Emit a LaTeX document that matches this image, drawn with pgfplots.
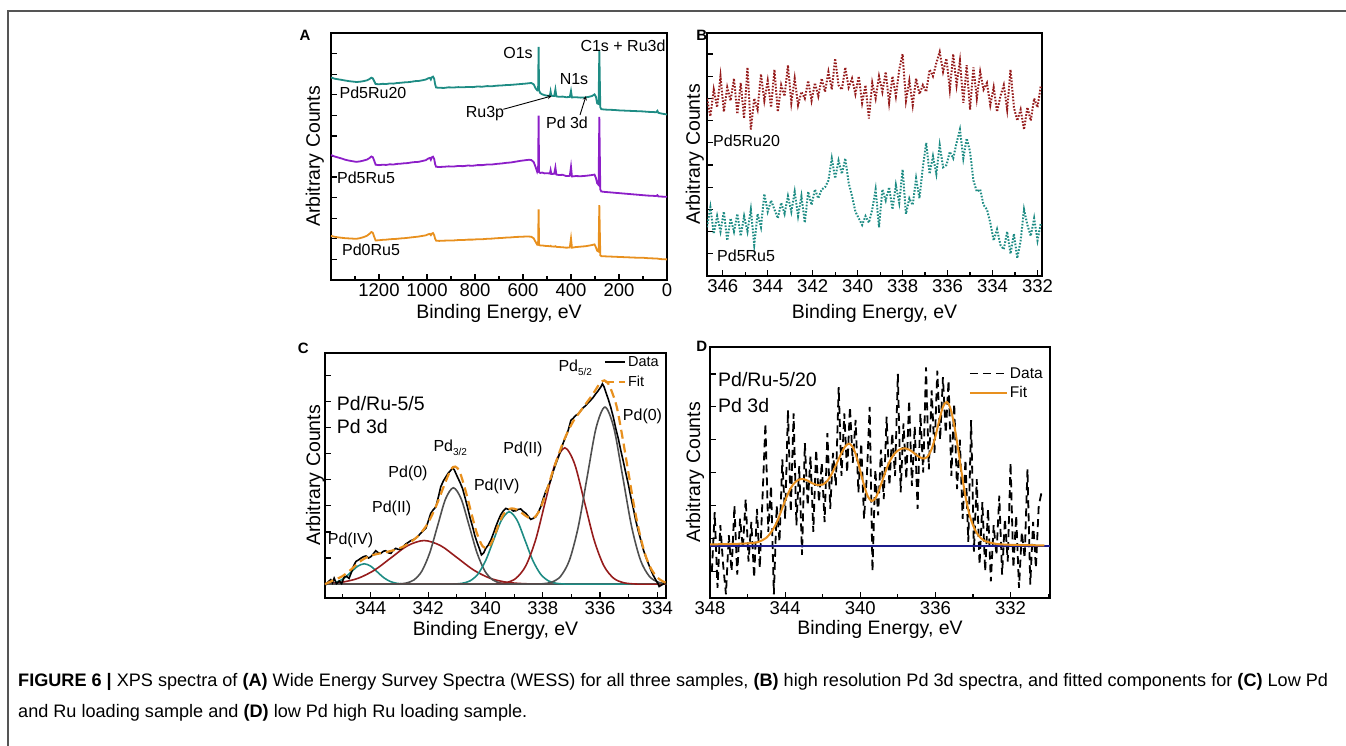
\documentclass[border=0pt]{standalone}
\usepackage{fontspec}
\setmainfont{Liberation Sans}
\usepackage{pgfplots}
\pgfplotsset{compat=1.18}

\definecolor{cTeal}{HTML}{1E8C84}
\definecolor{cPurple}{HTML}{8C1EC8}
\definecolor{cOrange}{HTML}{E8901E}
\definecolor{cRed}{HTML}{961C1C}
\definecolor{cGray}{HTML}{505050}
\definecolor{cNavy}{HTML}{1C1C8C}
\definecolor{cFrame}{HTML}{555555}

\newcommand{\fs}[1]{\fontsize{#1}{#1}\selectfont}

\pgfplotsset{
  xps/.style={
    scale only axis,
    x dir=reverse,
    axis line style={line width=1.6pt},
    tick style={black, line width=1.2pt},
    tick align=inside,
    xtick pos=bottom, ytick pos=left,
    major tick length=6pt, minor tick length=3.5pt,
    yticklabels={},
    /pgf/number format/assume math mode=true,
    /pgf/number format/1000 sep={},
    ticklabel style={font=\fs{18.5}},
    xlabel={Binding Energy, eV},
    ylabel={Arbitrary Counts},
    label style={font=\fs{19.5}},
  }
}

\begin{document}
\begin{tikzpicture}
\useasboundingbox (0,0) rectangle (1346pt,746pt);
% page frame
\draw[cFrame, line width=1.3pt] (8pt,0pt) -- (8pt,735pt) -- (1346pt,735pt);

% ---------------- A: survey ----------------
\begin{axis}[xps,
    at={(331pt,466pt)}, anchor=south west,
    width=336pt, height=247pt,
    xmin=0, xmax=1400, ymin=0, ymax=12,
    xtick={0,200,...,1200}, minor xtick={100,300,...,1300},
    ytick={1,...,11},
    xlabel style={at={(axis description cs:0.5,0)}, anchor=center, yshift=-33pt},
    ylabel style={at={(axis description cs:-0.048,0.5)}, anchor=center},
]
\addplot[cTeal, line width=1.8pt] coordinates {
(1400,9.84)(1385,9.78)(1370,9.75)(1355,9.72)(1340,9.69)(1325,9.66)(1310,9.64)(1295,9.62)(1280,9.63)(1265,9.66)(1250,9.70)(1240,9.76)(1232,9.83)(1226,9.80)(1220,9.66)(1214,9.52)(1200,9.51)(1185,9.53)(1170,9.52)(1155,9.55)(1140,9.54)(1125,9.57)(1110,9.58)(1095,9.60)(1080,9.61)(1065,9.63)(1050,9.66)(1035,9.67)(1020,9.70)(1005,9.74)(995,9.80)(988,9.82)(984,9.74)(980,9.85)(975,9.88)(970,9.78)(966,9.50)(962,9.35)(950,9.34)(930,9.33)(910,9.36)(890,9.35)(870,9.37)(850,9.36)(830,9.38)(810,9.37)(790,9.40)(770,9.39)(750,9.42)(730,9.41)(710,9.44)(690,9.45)(670,9.47)(650,9.48)(630,9.50)(610,9.52)(590,9.54)(575,9.56)(565,9.57)(555,9.50)(548,9.32)(541,9.22)(537,9.30)(535,11.33)(533,9.20)(528,9.08)(520,9.02)(510,8.98)(498,8.95)(488,8.96)(485,9.16)(482,8.95)(470,8.94)(465,9.26)(461,8.92)(450,8.90)(435,8.91)(420,8.88)(405,8.89)(400,9.18)(396,8.87)(380,8.88)(360,8.86)(340,8.87)(325,8.90)(312,8.94)(302,9.02)(296,8.90)(291,8.58)(285,8.55)(282,11.17)(278,8.40)(274,8.30)(260,8.28)(240,8.27)(220,8.26)(200,8.24)(180,8.23)(160,8.22)(140,8.21)(120,8.20)(100,8.19)(80,8.17)(60,8.16)(45,8.15)(40,8.22)(36,8.12)(20,8.08)(0,8.04)
};
\addplot[cPurple, line width=1.8pt] coordinates {
(1400,6.07)(1385,6.00)(1370,5.95)(1355,5.90)(1340,5.84)(1325,5.80)(1310,5.77)(1295,5.74)(1280,5.76)(1265,5.80)(1250,5.85)(1240,5.92)(1232,6.00)(1226,5.97)(1220,5.80)(1214,5.60)(1200,5.58)(1185,5.60)(1170,5.59)(1155,5.62)(1140,5.61)(1125,5.64)(1110,5.65)(1095,5.67)(1080,5.68)(1065,5.71)(1050,5.73)(1035,5.74)(1020,5.78)(1005,5.82)(995,5.90)(988,5.93)(984,5.84)(980,5.96)(975,5.99)(970,5.88)(966,5.62)(962,5.50)(950,5.49)(930,5.50)(910,5.52)(890,5.51)(870,5.54)(850,5.53)(830,5.56)(810,5.55)(790,5.58)(770,5.58)(750,5.61)(730,5.61)(710,5.64)(690,5.66)(670,5.69)(650,5.71)(630,5.75)(610,5.79)(590,5.82)(575,5.84)(565,5.83)(555,5.72)(548,5.50)(541,5.26)(537,5.40)(535,7.98)(533,5.24)(528,5.20)(520,5.22)(510,5.18)(498,5.19)(488,5.17)(485,5.34)(482,5.15)(470,5.16)(465,5.47)(461,5.12)(450,5.10)(435,5.11)(420,5.05)(405,5.06)(400,5.50)(396,5.03)(380,5.05)(360,5.04)(340,5.06)(325,5.08)(312,5.10)(302,5.12)(296,4.95)(291,4.70)(285,4.62)(282,7.93)(278,4.40)(274,4.30)(260,4.28)(240,4.26)(220,4.24)(200,4.22)(180,4.20)(160,4.18)(140,4.16)(120,4.14)(100,4.12)(80,4.10)(60,4.09)(45,4.08)(40,4.12)(36,4.06)(20,4.05)(0,4.04)
};
\addplot[cOrange, line width=1.8pt] coordinates {
(1400,2.14)(1385,2.10)(1370,2.07)(1355,2.05)(1340,2.03)(1325,2.02)(1310,2.01)(1295,2.00)(1280,2.03)(1265,2.08)(1250,2.15)(1240,2.24)(1232,2.33)(1226,2.30)(1220,2.10)(1214,1.92)(1200,1.93)(1185,1.95)(1170,1.96)(1155,1.98)(1140,1.99)(1125,2.00)(1110,2.02)(1095,2.03)(1080,2.05)(1065,2.07)(1050,2.09)(1035,2.11)(1020,2.14)(1005,2.17)(995,2.22)(988,2.24)(984,2.18)(980,2.25)(975,2.28)(970,2.18)(966,2.00)(962,1.91)(950,1.90)(930,1.91)(910,1.92)(890,1.92)(870,1.94)(850,1.94)(830,1.96)(810,1.96)(790,1.98)(770,1.98)(750,2.00)(730,2.01)(710,2.03)(690,2.04)(670,2.06)(650,2.07)(630,2.09)(610,2.10)(590,2.11)(575,2.11)(565,2.10)(555,2.02)(548,1.86)(541,1.72)(537,1.78)(535,3.43)(533,1.70)(528,1.68)(520,1.68)(510,1.66)(498,1.65)(488,1.64)(485,1.66)(482,1.63)(470,1.62)(465,1.64)(461,1.61)(450,1.60)(435,1.59)(420,1.57)(405,1.58)(400,2.02)(396,1.57)(380,1.60)(360,1.62)(340,1.64)(325,1.67)(312,1.70)(302,1.73)(296,1.58)(291,1.42)(285,1.38)(282,3.64)(278,1.20)(274,1.16)(260,1.15)(240,1.14)(220,1.13)(200,1.12)(180,1.11)(160,1.10)(140,1.09)(120,1.08)(100,1.08)(80,1.06)(60,1.05)(45,1.04)(40,1.04)(36,1.03)(20,1.01)(0,1.00)
};
\end{axis}

% ---------------- B: Pd 3d high resolution ----------------
\begin{axis}[xps,
    at={(707pt,470pt)}, anchor=south west,
    width=335pt, height=243pt,
    xmin=331.8, xmax=346.7, ymin=0, ymax=10.95,
    xtick={332,334,...,346}, minor xtick={333,335,...,345},
    ytick={1,...,10},
    xlabel style={at={(axis description cs:0.5,0)}, anchor=center, yshift=-37pt},
    ylabel style={at={(axis description cs:-0.036,0.5)}, anchor=center},
]
\addplot[cRed, line width=2pt, dash pattern=on 1.6pt off 1.6pt] coordinates {
(346.70,8.0)(346.55,7.2)(346.40,8.4)(346.25,7.6)(346.10,9.0)(345.95,7.4)(345.80,8.5)(345.65,7.9)(345.50,8.9)(345.35,7.3)(345.20,8.7)(345.05,7.1)(344.90,9.4)(344.75,6.6)(344.60,8.0)(344.45,7.5)(344.30,9.1)(344.15,7.9)(344.00,8.8)(343.85,7.6)(343.70,9.3)(343.55,7.4)(343.40,8.6)(343.25,8.1)(343.10,9.5)(342.95,7.8)(342.80,8.9)(342.65,7.7)(342.50,8.3)(342.35,8.0)(342.20,8.8)(342.05,7.9)(341.90,8.7)(341.75,8.1)(341.60,8.9)(341.45,8.3)(341.30,9.2)(341.15,8.4)(341.00,9.8)(340.85,8.6)(340.70,8.4)(340.55,9.4)(340.40,8.5)(340.25,8.9)(340.10,8.2)(339.95,9.0)(339.80,7.8)(339.65,8.6)(339.50,7.1)(339.35,8.7)(339.20,8.0)(339.05,9.0)(338.90,8.3)(338.75,9.2)(338.60,7.8)(338.45,9.0)(338.30,8.1)(338.15,9.3)(338.00,10.0)(337.85,7.9)(337.70,8.8)(337.55,7.7)(337.40,8.9)(337.25,8.2)(337.10,8.6)(336.95,8.3)(336.80,9.3)(336.65,9.0)(336.50,9.6)(336.35,10.1)(336.20,9.2)(336.05,9.8)(335.90,8.4)(335.75,10.0)(335.60,8.6)(335.45,9.7)(335.30,7.8)(335.15,9.5)(335.00,7.5)(334.85,9.4)(334.70,8.0)(334.55,9.2)(334.40,8.4)(334.25,8.7)(334.10,7.7)(333.95,8.5)(333.80,7.4)(333.65,8.1)(333.50,8.6)(333.35,7.5)(333.20,9.3)(333.05,7.6)(332.90,7.0)(332.75,7.5)(332.60,6.6)(332.45,7.6)(332.30,7.0)(332.15,8.0)(332.00,7.6)(331.85,8.6)
};
\addplot[cTeal, line width=2pt, dash pattern=on 1.6pt off 1.6pt] coordinates {
(346.70,2.2)(346.55,3.1)(346.40,1.9)(346.25,2.7)(346.10,2.0)(345.95,2.9)(345.80,1.6)(345.65,2.6)(345.50,2.0)(345.35,2.8)(345.20,1.8)(345.05,2.7)(344.90,2.0)(344.75,3.0)(344.60,1.4)(344.45,2.8)(344.30,2.2)(344.15,3.7)(344.00,2.9)(343.85,3.4)(343.70,3.0)(343.55,2.6)(343.40,3.3)(343.25,2.8)(343.10,3.6)(342.95,2.9)(342.80,3.8)(342.65,2.7)(342.50,3.6)(342.35,2.4)(342.20,3.8)(342.05,3.2)(341.90,3.9)(341.75,3.5)(341.60,3.9)(341.45,4.0)(341.30,4.3)(341.15,5.3)(341.00,4.4)(340.85,5.2)(340.70,4.6)(340.55,5.3)(340.40,4.2)(340.25,3.6)(340.10,2.9)(339.95,2.6)(339.80,2.3)(339.65,2.7)(339.50,2.4)(339.35,3.0)(339.20,3.9)(339.05,2.2)(338.90,3.9)(338.75,3.4)(338.60,4.0)(338.45,3.0)(338.30,4.1)(338.15,3.3)(338.00,4.8)(337.85,2.8)(337.70,3.5)(337.55,3.2)(337.40,4.4)(337.25,3.5)(337.10,4.9)(336.95,6.0)(336.80,4.6)(336.65,5.4)(336.50,4.6)(336.35,5.9)(336.20,4.9)(336.05,5.0)(335.90,5.6)(335.75,5.3)(335.60,6.0)(335.45,6.6)(335.30,5.3)(335.15,6.2)(335.00,5.6)(334.85,4.3)(334.70,3.8)(334.55,3.9)(334.40,3.2)(334.25,3.0)(334.10,2.4)(333.95,1.6)(333.80,2.1)(333.65,1.4)(333.50,1.2)(333.35,2.0)(333.20,1.0)(333.05,1.9)(332.90,0.8)(332.75,1.6)(332.60,3.0)(332.45,2.3)(332.30,1.8)(332.15,2.6)(332.00,1.6)(331.85,2.4)
};
\end{axis}

% ---------------- C: Pd/Ru-5/5 fit ----------------
\begin{axis}[xps,
    at={(325pt,148pt)}, anchor=south west,
    width=341pt, height=245pt,
    xmin=333.7, xmax=345.6, ymin=-0.53, ymax=8.85,
    xtick={334,336,...,344}, minor xtick={335,337,...,345},
    ytick={1,...,8},
    xlabel style={at={(axis description cs:0.5,0)}, anchor=center, yshift=-32pt},
    ylabel style={at={(axis description cs:-0.029,0.5)}, anchor=center},
    legend cell align=left,
    legend style={draw=none, fill=none, at={(rel axis cs:0.985,0.995)}, anchor=north east,
      font=\fs{14.5}, inner sep=0pt, row sep=4pt},
    legend image code/.code={\draw[#1] (0pt,0pt) -- (20pt,0pt);},
]
% components
\addplot[cTeal, line width=1.6pt, smooth, forget plot] coordinates {
(345.8,0.002)(345.58,0.009)(345.355,0.034)(345.13,0.106)(344.905,0.253)(344.68,0.473)(344.455,0.688)(344.23,0.78)(344.005,0.688)(343.78,0.473)(343.555,0.253)(343.33,0.106)(343.105,0.034)(342.88,0.009)(342.655,0.002)(342.43,0)(333.7,0)};
\addplot[cRed, line width=1.6pt, smooth, forget plot] coordinates {
(346.165,0.004)(345.59,0.019)(345.015,0.073)(344.44,0.226)(343.865,0.542)(343.29,1.013)(342.715,1.474)(342.14,1.67)(341.565,1.474)(340.99,1.013)(340.415,0.542)(339.84,0.226)(339.265,0.073)(338.69,0.019)(338.115,0.004)(337.5,0)(333.7,0)};
\addplot[cGray, line width=1.6pt, smooth, forget plot] coordinates {
(345.6,0)(343.32,0)(343.045,0.008)(342.77,0.041)(342.495,0.162)(342.22,0.499)(341.945,1.198)(341.67,2.238)(341.395,3.256)(341.12,3.69)(340.845,3.256)(340.57,2.238)(340.295,1.198)(340.02,0.499)(339.745,0.162)(339.47,0.041)(339.195,0.008)(338.92,0)(333.7,0)};
\addplot[cTeal, line width=1.6pt, smooth, forget plot] coordinates {
(345.6,0)(341.37,0)(341.095,0.006)(340.82,0.031)(340.545,0.122)(340.27,0.375)(339.995,0.899)(339.72,1.680)(339.445,2.444)(339.17,2.77)(338.895,2.444)(338.62,1.680)(338.345,0.899)(338.07,0.375)(337.795,0.122)(337.52,0.031)(337.245,0.006)(336.97,0)(333.7,0)};
\addplot[cRed, line width=1.6pt, smooth, forget plot] coordinates {
(345.6,0)(339.95,0)(339.61,0.011)(339.27,0.058)(338.93,0.229)(338.59,0.706)(338.25,1.695)(337.91,3.166)(337.57,4.607)(337.23,5.22)(336.89,4.607)(336.55,3.166)(336.21,1.695)(335.87,0.706)(335.53,0.229)(335.19,0.058)(334.85,0.011)(334.51,0)(333.7,0)};
\addplot[cGray, line width=1.6pt, smooth, forget plot] coordinates {
(345.6,0)(338.31,0)(338.00,0.015)(337.69,0.075)(337.38,0.298)(337.07,0.917)(336.76,2.201)(336.45,4.112)(336.14,5.983)(335.83,6.78)(335.52,5.983)(335.21,4.112)(334.90,2.201)(334.59,0.917)(334.28,0.298)(333.97,0.075)(333.66,0.015)};
% data
\addplot[black, line width=1.6pt] coordinates {
(345.57,-0.03)(345.48,0.10)(345.40,0.17)(345.34,0.05)(345.28,0.23)(345.20,0.02)(345.10,0.12)(345.02,0.02)(344.93,0.27)(344.85,0.30)(344.76,0.22)(344.68,0.45)(344.60,0.70)(344.52,0.87)(344.44,0.92)(344.35,0.99)(344.26,1.05)(344.17,1.08)(344.08,1.00)(344.00,1.05)(343.92,1.15)(343.83,1.28)(343.74,1.20)(343.65,1.18)(343.56,1.26)(343.48,1.28)(343.39,1.20)(343.30,1.18)(343.22,1.30)(343.13,1.37)(343.04,1.33)(342.95,1.34)(342.86,1.45)(342.78,1.54)(342.69,1.60)(342.60,1.67)(342.52,1.70)(342.43,1.76)(342.34,1.85)(342.26,1.95)(342.17,2.05)(342.08,2.14)(342.00,2.40)(341.91,2.71)(341.82,2.85)(341.73,2.96)(341.64,3.35)(341.56,3.73)(341.47,3.95)(341.38,4.11)(341.30,4.25)(341.21,4.36)(341.15,4.45)(341.09,4.38)(340.98,4.11)(340.89,3.90)(340.80,3.66)(340.71,3.30)(340.63,2.96)(340.54,2.55)(340.45,2.20)(340.37,1.85)(340.28,1.56)(340.21,1.35)(340.14,1.12)(340.06,1.20)(339.99,1.37)(339.90,1.50)(339.81,1.69)(339.72,1.95)(339.64,2.20)(339.55,2.45)(339.47,2.65)(339.38,2.80)(339.29,2.90)(339.20,2.86)(339.12,2.88)(339.03,2.80)(338.94,2.81)(338.86,2.86)(338.77,2.88)(338.68,2.78)(338.59,2.71)(338.51,2.60)(338.42,2.48)(338.33,2.52)(338.24,2.58)(338.16,2.75)(338.07,2.96)(337.99,3.25)(337.90,3.54)(337.81,3.75)(337.72,3.98)(337.64,4.30)(337.55,4.59)(337.46,4.85)(337.37,5.13)(337.29,5.40)(337.20,5.64)(337.11,5.90)(337.02,6.27)(336.94,6.35)(336.85,6.46)(336.76,6.52)(336.67,6.65)(336.59,6.75)(336.50,6.84)(336.41,6.95)(336.33,7.04)(336.24,7.15)(336.15,7.29)(336.07,7.40)(335.98,7.54)(335.92,7.67)(335.86,7.55)(335.80,7.35)(335.72,7.10)(335.63,6.78)(335.54,6.40)(335.45,5.95)(335.36,5.55)(335.28,5.13)(335.19,4.70)(335.10,4.24)(335.01,3.80)(334.93,3.35)(334.84,2.90)(334.76,2.46)(334.67,2.05)(334.58,1.69)(334.50,1.35)(334.41,1.06)(334.32,0.80)(334.23,0.55)(334.15,0.35)(334.06,0.17)(333.98,0.02)(333.94,-0.09)(333.88,-0.05)(333.83,-0.02)(333.77,0.02)(333.71,0.03)
};
\addlegendentry{Data}
\addplot[cOrange, line width=2.2pt, dash pattern=on 9pt off 5pt, smooth] coordinates {
(345.6,0.0)(345.3,0.15)(345.0,0.30)(344.7,0.55)(344.4,0.85)(344.1,1.05)(343.8,1.15)(343.5,1.22)(343.2,1.30)(342.9,1.42)(342.6,1.62)(342.3,1.90)(342.0,2.35)(341.7,3.05)(341.4,3.90)(341.2,4.40)(341.05,4.50)(340.9,4.30)(340.7,3.60)(340.5,2.75)(340.3,1.95)(340.1,1.45)(339.9,1.40)(339.7,1.80)(339.5,2.40)(339.3,2.78)(339.1,2.90)(338.9,2.85)(338.7,2.70)(338.5,2.55)(338.3,2.55)(338.1,2.85)(337.9,3.45)(337.7,4.15)(337.5,4.80)(337.3,5.40)(337.1,5.90)(336.9,6.30)(336.7,6.60)(336.5,6.90)(336.3,7.20)(336.15,7.45)(336.0,7.70)(335.85,7.80)(335.7,7.65)(335.55,7.25)(335.4,6.70)(335.2,5.50)(335.0,4.20)(334.8,2.90)(334.6,1.85)(334.4,1.05)(334.2,0.55)(334.0,0.25)(333.8,0.10)(333.7,0.05)
};
\addlegendentry{Fit}
\end{axis}

% ---------------- D: Pd/Ru-5/20 fit ----------------
\begin{axis}[xps,
    at={(710pt,148pt)}, anchor=south west,
    width=340pt, height=251pt,
    xmin=329.9, xmax=348, ymin=0.19, ymax=7.82,
    xtick={332,336,...,348}, minor xtick={330,334,...,346},
    ytick={1,...,7},
    xlabel style={at={(axis description cs:0.5,0)}, anchor=center, yshift=-31pt},
    ylabel style={at={(axis description cs:-0.044,0.5)}, anchor=center},
    legend cell align=left,
    legend style={draw=none, fill=none, at={(rel axis cs:0.985,0.927)}, anchor=north east,
      font=\fs{15.5}, inner sep=0pt, row sep=3pt},
    legend image code/.code={\draw[#1] (0pt,0pt) -- (37pt,0pt);},
]
\addplot[black, line width=1.8pt, dash pattern=on 8pt off 5pt] coordinates {
(347.90,1.0)(347.75,2.8)(347.60,0.5)(347.45,2.4)(347.30,1.2)(347.15,0.3)(347.00,2.1)(346.85,1.0)(346.70,3.0)(346.55,0.9)(346.40,2.6)(346.25,1.7)(346.10,3.2)(345.95,1.3)(345.80,2.5)(345.65,0.8)(345.50,2.9)(345.35,1.1)(345.20,3.3)(345.05,5.5)(344.90,2.2)(344.75,3.6)(344.60,0.3)(344.45,3.0)(344.30,1.9)(344.15,4.4)(344.00,2.6)(343.85,5.9)(343.70,2.8)(343.55,5.8)(343.40,2.4)(343.25,4.2)(343.10,1.5)(342.95,4.9)(342.80,3.0)(342.65,4.5)(342.50,2.2)(342.35,4.7)(342.20,3.1)(342.05,4.3)(341.90,2.5)(341.75,5.2)(341.60,2.9)(341.45,4.6)(341.30,3.6)(341.15,6.6)(341.00,3.9)(340.85,5.8)(340.70,4.0)(340.55,6.0)(340.40,4.3)(340.25,5.6)(340.10,3.4)(339.95,4.9)(339.80,2.6)(339.65,3.9)(339.50,6.0)(339.35,1.0)(339.20,4.1)(339.05,2.7)(338.90,4.7)(338.75,3.2)(338.60,5.7)(338.45,3.6)(338.30,5.2)(338.15,3.9)(338.00,7.0)(337.85,3.4)(337.70,5.5)(337.55,3.8)(337.40,6.2)(337.25,3.6)(337.10,5.4)(336.95,2.9)(336.80,5.8)(336.65,4.0)(336.50,7.2)(336.35,4.1)(336.20,6.5)(336.05,4.6)(335.90,7.1)(335.75,5.0)(335.60,6.9)(335.45,5.2)(335.30,6.8)(335.15,3.9)(335.00,6.1)(334.85,3.5)(334.70,5.0)(334.55,2.6)(334.40,4.4)(334.25,1.9)(334.10,5.6)(333.95,1.6)(333.80,3.8)(333.65,1.2)(333.50,3.1)(333.35,1.0)(333.20,2.9)(333.05,0.7)(332.90,2.4)(332.75,1.5)(332.60,3.3)(332.45,0.9)(332.30,2.6)(332.15,1.3)(332.00,4.3)(331.85,1.1)(331.70,2.7)(331.55,0.5)(331.40,2.2)(331.25,1.4)(331.10,4.1)(330.95,0.6)(330.80,2.5)(330.65,1.1)(330.50,3.0)(330.35,3.4)
};
\addlegendentry{Data}
\addplot[cNavy, line width=2pt, forget plot] coordinates {(348,1.78) (329.9,1.78)};
\addplot[cOrange, line width=2pt, smooth] coordinates {
(348.0,1.82)(347.0,1.83)(346.0,1.85)(345.5,1.88)(345.2,1.95)(345.0,2.02)(344.8,2.15)(344.6,2.32)(344.4,2.55)(344.2,2.85)(344.0,3.15)(343.8,3.42)(343.6,3.62)(343.4,3.74)(343.2,3.80)(343.0,3.80)(342.8,3.76)(342.6,3.69)(342.4,3.64)(342.2,3.62)(342.0,3.64)(341.8,3.72)(341.6,3.88)(341.4,4.10)(341.2,4.35)(341.0,4.60)(340.8,4.80)(340.6,4.88)(340.4,4.78)(340.2,4.48)(340.0,4.05)(339.8,3.62)(339.6,3.28)(339.4,3.14)(339.2,3.22)(339.0,3.47)(338.8,3.80)(338.6,4.12)(338.4,4.38)(338.2,4.56)(338.0,4.67)(337.8,4.73)(337.6,4.74)(337.4,4.70)(337.2,4.62)(337.0,4.53)(336.8,4.46)(336.6,4.43)(336.4,4.50)(336.2,4.72)(336.0,5.10)(335.8,5.58)(335.6,6.00)(335.4,6.15)(335.2,5.95)(335.0,5.45)(334.8,4.75)(334.6,3.98)(334.4,3.28)(334.2,2.75)(334.0,2.40)(333.8,2.17)(333.6,2.02)(333.4,1.93)(333.0,1.86)(332.5,1.82)(331.5,1.80)(330.2,1.79)
};
\addlegendentry{Fit}
\end{axis}

% ---------------- annotations ----------------
\begin{scope}[every node/.style={inner sep=0pt, font=\fs{16}}]
% panel letters
\node[font=\bfseries\fs{15}] at (305pt,711pt) {A};
\node[font=\bfseries\fs{15}] at (701.7pt,711pt) {B};
\node[font=\bfseries\fs{15}] at (303.3pt,397.7pt) {C};
\node[font=\bfseries\fs{15}] at (701.7pt,399.3pt) {D};
% A
\node at (373pt,653pt) {Pd5Ru20};
\node at (366pt,568.5pt) {Pd5Ru5};
\node at (371pt,496pt) {Pd0Ru5};
\node at (518pt,693pt) {O1s};
\node at (623pt,700pt) {C1s + Ru3d};
\node at (574pt,667pt) {N1s};
\node at (485pt,632pt) {Ru3p};
\node at (567pt,623pt) {Pd 3d};
\draw[-stealth, line width=0.9pt] (503.3pt,636.7pt) -- (551.7pt,650pt);
\draw[-stealth, line width=0.9pt] (580pt,631pt) -- (586pt,650pt);
% B
\node[anchor=west] at (713pt,605pt) {Pd5Ru20};
\node[anchor=west] at (717pt,490pt) {Pd5Ru5};
% C
\node[anchor=west, font=\fs{19.5}] at (336.7pt,342pt) {Pd/Ru-5/5};
\node[anchor=west, font=\fs{19.5}] at (336.7pt,319pt) {Pd 3d};
\node[anchor=base west] at (558.3pt,374.3pt) {Pd\raisebox{-4pt}{\fs{10}5/2}};
\node at (642.5pt,329.3pt) {Pd(0)};
\node at (523pt,297pt) {Pd(II)};
\node[anchor=base west] at (433.3pt,294.3pt) {Pd\raisebox{-4pt}{\fs{10}3/2}};
\node at (408pt,273pt) {Pd(0)};
\node at (496.7pt,259.3pt) {Pd(IV)};
\node at (391.7pt,237.7pt) {Pd(II)};
\node at (350.5pt,206pt) {Pd(IV)};
% D
\node[anchor=west, font=\fs{19.5}] at (718pt,366pt) {Pd/Ru-5/20};
\node[anchor=west, font=\fs{19.5}] at (718pt,340pt) {Pd 3d};
\end{scope}

% caption
\node[anchor=base west, inner sep=0pt, font=\fs{18.1}] at (18pt,59pt)
  {\textbf{FIGURE 6 |} XPS spectra of \textbf{(A)} Wide Energy Survey Spectra (WESS) for all three samples, \textbf{(B)} high resolution Pd 3d spectra, and fitted components for \textbf{(C)} Low Pd};
\node[anchor=base west, inner sep=0pt, font=\fs{18.1}] at (18pt,28pt)
  {and Ru loading sample and \textbf{(D)} low Pd high Ru loading sample.};
\end{tikzpicture}
\end{document}
